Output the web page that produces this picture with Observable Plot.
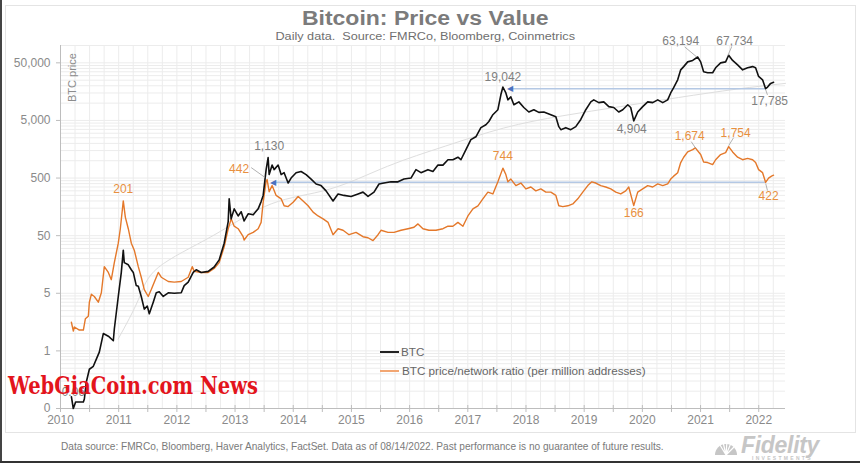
<!DOCTYPE html>
<html>
<head>
<meta charset="utf-8">
<script src="https://cdn.jsdelivr.net/npm/d3@7"></script>
<script src="https://cdn.jsdelivr.net/npm/@observablehq/plot@0.6"></script>
<style>
  body { margin: 0; background: #fff; }
  #wrap { position: relative; width: 860px; height: 463px; overflow: hidden; background: #fff;
          font-family: "Liberation Sans", Arial, sans-serif; }
  #frame { position: absolute; left: 5px; top: 5px; width: 849px; height: 426px; border: 1px solid #e4e4e4; }
  #edgeL { position: absolute; left: 0; top: 0; width: 2px; height: 463px; background: #444; }
  #edgeB { position: absolute; left: 0; top: 461px; width: 860px; height: 2px; background: #333; }
  #chart { position: absolute; left: 0; top: 0; }
  .abs { position: absolute; white-space: nowrap; }
  #title { left: 0; width: 850px; top: 7px; text-align: center; font-weight: bold; font-size: 20px; color: #7b7b7b; }
  #title span, #subtitle span { display: inline-block; transform: scaleX(1.15); }
  #subtitle { left: 0; width: 850px; top: 30px; text-align: center; font-size: 11px; color: #6f6f6f; }
  #ylab { left: 66px; top: 66px; font-size: 11px; color: #8c8c8c; transform-origin: 0 0; transform: rotate(-90deg) translate(-36px, 0); }
  .leg-line { position: absolute; height: 2px; }
  .leg-text { position: absolute; font-size: 11.7px; color: #666; }
  #caption { left: 61px; top: 441px; font-size: 10.1px; color: #7a7a7a; }
  #fid { left: 741px; top: 436px; font-size: 23px; line-height: 19px; font-weight: bold; font-style: italic; color: #c6c6c6; letter-spacing: -0.3px; }
  #fidsub { left: 752px; top: 456px; font-size: 5px; line-height: 5px; font-weight: bold; color: #c6c6c6; letter-spacing: 2.3px; }
</style>
</head>
<body>
<div id="wrap">
  <div id="frame"></div>
  <div id="chart"></div>
  <div id="title" class="abs"><span>Bitcoin: Price vs Value</span></div>
  <div id="subtitle" class="abs"><span>Daily data.&nbsp; Source: FMRCo, Bloomberg, Coinmetrics</span></div>
  <div id="ylab" class="abs">BTC price</div>
  <div class="leg-line" style="left:380px;top:351px;width:19px;background:#222;"></div>
  <div class="leg-text" style="left:401px;top:345px;">BTC</div>
  <div class="leg-line" style="left:380px;top:370px;width:19px;background:#f2a672;"></div>
  <div class="leg-text" style="left:402px;top:364px;">BTC price/network ratio (per million addresses)</div>
  <div id="caption" class="abs">Data source: FMRCo, Bloomberg, Haver Analytics, FactSet. Data as of 08/14/2022. Past performance is no guarantee of future results.</div>
  <svg class="abs" style="left:712px;top:435px" width="30" height="24">
    <path d="M3,20 A11,11 0 1 1 25,20 Z" fill="#c6c6c6"/>
    <path d="M14,20 L8,10 M14,20 L11,7 M14,20 L15,6 M14,20 L19,8 M14,20 L22,12" stroke="#fff" stroke-width="1.2"/>
  </svg>
  <div id="fid" class="abs">Fidelity</div>
  <div id="fidsub" class="abs">INVESTMENTS</div>
  <div id="edgeL"></div>
  <div id="edgeB"></div>
  <svg class="abs" style="left:0;top:0" width="860" height="463">
    <text x="8" y="394" font-family="'DejaVu Serif Condensed','DejaVu Serif',serif" font-weight="bold" font-size="25"
          fill="#e3141c" textLength="250" lengthAdjust="spacingAndGlyphs">WebGiaCoin.com News</text>
  </svg>
</div>
<script>
// ---------- DATA ----------
// BTC price, decimal year and USD
const btcDates = [2010.567,2010.600,2010.640,2010.773,2010.790,2010.824,2010.876,2010.944,2010.996,2011.047,
  2011.116,2011.202,2011.288,2011.305,2011.373,2011.425,2011.459,2011.476,2011.545,2011.597,
  2011.631,2011.682,2011.717,2011.768,2011.820,2011.871,2011.906,2011.974,2012.026,2012.077,
  2012.146,2012.232,2012.335,2012.455,2012.506,2012.575,2012.661,2012.712,2012.798,2012.918,
  2013.021,2013.107,2013.193,2013.262,2013.279,2013.313,2013.365,2013.433,2013.485,2013.536,
  2013.605,2013.691,2013.777,2013.828,2013.863,2013.914,2013.948,2013.966,2014.017,2014.052,
  2014.120,2014.172,2014.223,2014.292,2014.343,2014.429,2014.515,2014.601,2014.687,2014.773,
  2014.858,2014.944,2015.064,2015.150,2015.253,2015.373,2015.494,2015.579,2015.665,2015.768,
  2015.854,2015.940,2016.060,2016.180,2016.283,2016.403,2016.489,2016.575,2016.695,2016.781,
  2016.867,2016.953,2017.039,2017.124,2017.210,2017.262,2017.348,2017.433,2017.519,2017.605,
  2017.691,2017.742,2017.811,2017.897,2017.948,2017.983,2018.034,2018.069,2018.120,2018.172,
  2018.258,2018.343,2018.429,2018.515,2018.601,2018.687,2018.807,2018.893,2018.944,2018.979,
  2019.064,2019.150,2019.236,2019.322,2019.408,2019.494,2019.545,2019.631,2019.717,2019.803,
  2019.888,2019.974,2020.043,2020.129,2020.180,2020.232,2020.300,2020.386,2020.472,2020.558,
  2020.644,2020.730,2020.815,2020.867,2020.918,2020.987,2021.039,2021.090,2021.159,2021.245,
  2021.330,2021.382,2021.433,2021.502,2021.588,2021.639,2021.725,2021.811,2021.863,2021.931,
  2022.017,2022.103,2022.189,2022.275,2022.326,2022.378,2022.446,2022.498,2022.532,2022.584,2022.635];
const btcValues = [0.08,0.05,0.065,0.065,0.073,0.144,0.24,0.27,0.36,0.475,
  1.0,0.9,0.75,1.2,4.4,11.5,28,17,15.6,12.8,
  11.5,6.8,6.6,4.4,2.66,3.0,2.2,3.5,5.1,5.3,
  4.4,5.1,5.0,5.1,6.8,7.8,11.5,12.8,11.5,12,
  14.3,19,37,88,218,98,146,110,130,90,
  120,115,146,195,250,700,1130,575,840,700,
  840,575,620,410,500,620,650,575,480,395,
  370,300,200,265,250,240,265,285,240,285,
  395,410,430,430,480,500,700,620,700,650,
  840,840,1040,1040,1150,1040,1560,2320,2600,3750,
  4220,4800,6290,7680,13950,19042,15000,11400,12800,9370,
  10500,8400,7000,7680,6900,7000,6300,5800,3900,3460,
  3750,3460,3900,5200,7680,10500,11400,10200,10500,8700,
  8400,7000,7680,9370,8400,4904,7000,8700,10500,10200,
  11400,10200,11400,15000,18500,25400,37800,43000,52000,55000,
  63194,52000,35000,33700,33700,41000,50000,52000,67734,55000,
  46000,37800,41000,43000,41000,29000,25400,17785,19000,22000,23000];

// BTC price / network ratio (per million addresses)
const ratioDates = [2010.567,2010.601,2010.618,2010.704,2010.773,2010.807,2010.858,2010.876,2010.910,2010.961,
  2011.030,2011.082,2011.133,2011.202,2011.253,2011.305,2011.373,2011.408,2011.459,2011.494,
  2011.545,2011.597,2011.648,2011.717,2011.768,2011.820,2011.888,2011.940,2011.991,2012.060,
  2012.112,2012.232,2012.335,2012.455,2012.575,2012.644,2012.678,2012.798,2012.918,2013.021,
  2013.107,2013.193,2013.262,2013.313,2013.365,2013.433,2013.519,2013.536,2013.605,2013.691,
  2013.777,2013.828,2013.863,2013.914,2013.931,2013.966,2014.017,2014.086,2014.172,2014.223,
  2014.292,2014.378,2014.464,2014.549,2014.635,2014.721,2014.807,2014.893,2014.979,2015.064,
  2015.150,2015.236,2015.339,2015.459,2015.579,2015.665,2015.751,2015.837,2015.888,2016.009,
  2016.112,2016.232,2016.352,2016.455,2016.524,2016.609,2016.712,2016.833,2016.953,2017.039,
  2017.124,2017.210,2017.296,2017.382,2017.468,2017.554,2017.639,2017.725,2017.811,2017.897,
  2017.983,2018.034,2018.069,2018.120,2018.206,2018.292,2018.378,2018.464,2018.549,2018.635,
  2018.721,2018.807,2018.893,2018.944,2019.013,2019.099,2019.185,2019.270,2019.356,2019.442,
  2019.511,2019.579,2019.665,2019.751,2019.837,2019.923,2020.009,2020.094,2020.146,2020.232,
  2020.300,2020.386,2020.472,2020.558,2020.644,2020.730,2020.815,2020.867,2020.918,2020.987,
  2021.039,2021.090,2021.159,2021.245,2021.290,2021.382,2021.433,2021.502,2021.588,2021.639,
  2021.725,2021.811,2021.863,2021.931,2022.017,2022.103,2022.189,2022.275,2022.326,2022.378,
  2022.446,2022.498,2022.549,2022.600,2022.635];
const ratioValues = [1.57,1.1,1.3,1.15,1.15,1.8,2.0,3.5,4.8,4.4,
  3.5,5.1,14.5,11.5,8.6,17,37,66,201,105,
  66,37,28,14.5,9.5,5.8,4.4,5.8,7.8,11.5,
  9.5,8.0,7.8,8,9.5,14.5,12,11.5,11.5,13.5,
  17,32,66,98,73,66,48,42,52,57,
  66,85,190,442,470,290,370,250,218,165,
  160,190,240,200,165,128,110,98,85,52,
  66,62,52,57,48,46,41,52,62,57,
  57,62,66,70,80,66,62,62,66,73,
  73,85,73,110,146,165,218,285,265,430,
  744,575,430,480,370,410,324,350,300,324,
  285,285,250,165,160,165,178,218,285,370,
  430,410,370,350,324,285,265,300,350,166,
  285,324,370,350,395,370,395,480,540,620,
  930,1150,1420,1560,1674,1280,950,930,855,1040,
  1280,1380,1754,1420,1150,1040,1100,1040,930,700,
  620,422,500,540,560];

// faint trend curve
const trendDates  = [2011.37,2011.72,2012.06,2013.0,2014.0,2015.0,2016.0,2017.0,2018.0,2019.0,2020.0,2021.0,2022.0,2022.84];
const trendValues = [0.8,3.9,14,50,178,320,800,1800,3700,6000,8700,12500,17500,22000];

// horizontal reference arrows
const refLevels = [17785, 422];
const refStart  = [2018.10, 2014.03];
const refEnd    = [2022.50, 2022.50];

// value annotations
const annoText   = ["1,130","442","201","19,042","63,194","67,734","17,785","4,904","744","1,674","1,754","166","422","0.06"];
const annoDates  = [2013.966,2013.45,2011.459,2017.983,2021.039,2021.966,2022.567,2020.197,2017.983,2021.193,2021.983,2020.232,2022.549,2010.60];
const annoValues = [1756,700,324,28620,120200,120200,10990,3597,1178,2722,3069,121,239,0.0966];
const annoSeries = ["BTC","ratio","ratio","BTC","BTC","BTC","BTC","BTC","ratio","ratio","ratio","ratio","ratio","BTC"];

// leader lines (label end -> point end)
const leadFromDates  = [2013.657,2021.107,2021.914,2022.50,2021.22,2021.948,2022.50];
const leadFromValues = [760,94600,94600,17000,2143,2512,402];
const leadToDates    = [2013.897,2021.313,2021.846,2022.53,2021.30,2021.863,2022.53];
const leadToValues   = [510,63500,66000,13900,1622,1828,304];

// axes
const yTickValues = [0.05,0.5,5,50,500,5000,50000];
const yTickLabels = ["0","1","5","50","500","5,000","50,000"];
const xYearLabels = ["2010","2011","2012","2013","2014","2015","2016","2017","2018","2019","2020","2021","2022"];
const xLabelOffset = 0.38; // year labels sit at this point of each year on the date axis

// ---------- BUILD ----------
const btc = btcDates.map((t, i) => ({t, v: btcValues[i]}));
const ratio = ratioDates.map((t, i) => ({t, v: ratioValues[i]}));
const trend = trendDates.map((t, i) => ({t, v: trendValues[i]}));
const refs = refLevels.map((v, i) => ({v, t1: refStart[i], t2: refEnd[i]}));
const annos = annoText.map((s, i) => ({s, t: annoDates[i], v: annoValues[i], k: annoSeries[i]}));
const leads = leadFromDates.map((t, i) => ({t1: t, v1: leadFromValues[i], t2: leadToDates[i], v2: leadToValues[i]}));
const yTicks = yTickValues.map((v, i) => ({v, s: yTickLabels[i]}));

const xMin = 2010 + xLabelOffset, xMax = 2022.84;
const majorX = xYearLabels.map(y => +y + xLabelOffset);
const halfX = majorX.map(x => x + 0.5).filter(x => x < xMax);
const xTicks = majorX.map((x, i) => ({x, s: xYearLabels[i]}));
const gridX = d3.range(xMin, xMax, 0.25);
const gridY = [];
for (let e = -2; e <= 4; e++) for (let k = 1; k <= 9; k++) {
  const v = 5 * Math.pow(10, e) * k;
  if (v >= 0.05 && v <= 100000) gridY.push(v);
}

const GRAY = "#8a8a8a", ORANGE = "#e4782a", ORANGE_T = "#e8903f";
const noLabel = () => "";

const chart = Plot.plot({
  width: 860,
  height: 432,
  marginLeft: 60,
  marginRight: 75,
  marginTop: 45,
  marginBottom: 24,
  style: {fontFamily: "'Liberation Sans', Arial, sans-serif", background: "transparent", overflow: "visible"},
  x: {domain: [xMin, xMax]},
  y: {type: "log", domain: [0.05, 100000]},
  marks: [
    Plot.ruleX(gridX, {stroke: "#ececec", strokeWidth: 1}),
    Plot.ruleY(gridY, {stroke: "#ececec", strokeWidth: 1}),
    Plot.ruleY([0.05], {stroke: "#bdbdbd"}),
    Plot.ruleX([xMin], {stroke: "#bdbdbd"}),
    // y ticks and labels
    Plot.axisY(yTickValues, {tickFormat: noLabel, tickSize: 4, color: "#bdbdbd", label: null}),
    Plot.text(yTicks, {y: "v", text: "s", frameAnchor: "left", textAnchor: "end", dx: -10, fontSize: 12, fill: GRAY}),
    // x ticks and labels
    Plot.axisX(majorX.concat(halfX), {tickFormat: noLabel, tickSize: 4, color: "#bdbdbd", label: null}),
    Plot.axisX(majorX.concat(halfX), {tickFormat: noLabel, tickSize: -3, color: "#bdbdbd", label: null}),
    Plot.text(xTicks, {x: "x", text: "s", frameAnchor: "bottom", lineAnchor: "top", dy: 7, fontSize: 12, fill: GRAY}),
    // chart content
    Plot.line(trend, {x: "t", y: "v", stroke: "#dedede", strokeWidth: 1, curve: "natural"}),
    Plot.link(refs, {x1: "t1", x2: "t2", y1: "v", y2: "v", stroke: "#b4c8e4", strokeWidth: 1.6}),
    Plot.text(refs, {x: "t1", y: "v", text: () => "◀", fill: "#4a72c0", fontSize: 8, textAnchor: "end", dx: 3}),
    Plot.line(ratio, {x: "t", y: "v", stroke: ORANGE, strokeWidth: 1.4, strokeLinejoin: "round"}),
    Plot.line(btc, {x: "t", y: "v", stroke: "#111", strokeWidth: 1.6, strokeLinejoin: "round"}),
    Plot.link(leads, {x1: "t1", y1: "v1", x2: "t2", y2: "v2", stroke: "#9e9e9e", strokeWidth: 0.8}),
    Plot.text(annos, {x: "t", y: "v", text: "s", fontSize: 12, fill: d => d.k === "BTC" ? "#7f7f7f" : ORANGE_T})
  ]
});
document.getElementById("chart").appendChild(chart);
</script>
</body>
</html>
